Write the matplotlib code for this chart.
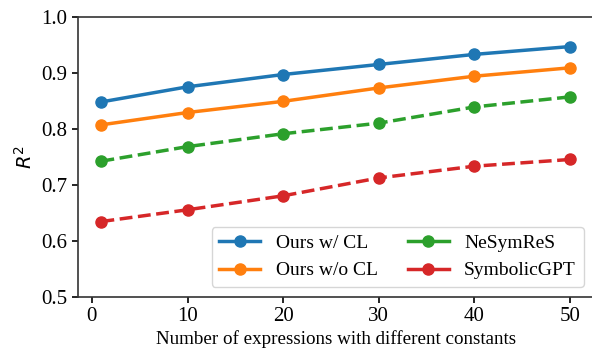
import matplotlib
matplotlib.use('Agg')
import matplotlib.pyplot as plt

x = [1, 10, 20, 30, 40, 50]
ours_cl = [0.849, 0.876, 0.898, 0.916, 0.934, 0.948]
ours_no_cl = [0.808, 0.830, 0.850, 0.874, 0.895, 0.910]
nesymres = [0.743, 0.769, 0.792, 0.811, 0.840, 0.858]
symbolic_gpt = [0.635, 0.656, 0.681, 0.713, 0.734, 0.746]

plt.rcParams['font.family'] = 'Liberation Serif'
plt.rcParams['mathtext.fontset'] = 'dejavusans'

fig = plt.figure(figsize=(5.92, 3.52), dpi=100)
ax = fig.add_axes([0.1318, 0.1563, 0.8707, 0.7940])

ax.plot(x, ours_cl, 'o-', color='#1f77b4', lw=2.5, ms=8, label='Ours w/ CL')
ax.plot(x, ours_no_cl, 'o-', color='#ff7f0e', lw=2.5, ms=8, label='Ours w/o CL')
ax.plot(x, nesymres, 'o--', color='#2ca02c', lw=2.5, ms=8, label='NeSymReS')
ax.plot(x, symbolic_gpt, 'o--', color='#d62728', lw=2.5, ms=8, label='SymbolicGPT')

ax.set_ylim(0.5, 1.0)
ax.set_xticks([0, 10, 20, 30, 40, 50])
ax.tick_params(labelsize=15, width=1.2, length=4)
for s in ax.spines.values():
    s.set_linewidth(1.2)
    s.set_color('#333333')

ax.set_xlabel('Number of expressions with different constants', fontsize=13.7, labelpad=3)
ax.set_ylabel('$R^2$', fontsize=14)

# legend handles are drawn solid in the original
leg = ax.legend(ncol=2, loc='lower right', fontsize=14, handlelength=2.1,
                columnspacing=1.55)
for ln in leg.get_lines():
    ln.set_linestyle('-')

fig.savefig('out.png', dpi=100)
